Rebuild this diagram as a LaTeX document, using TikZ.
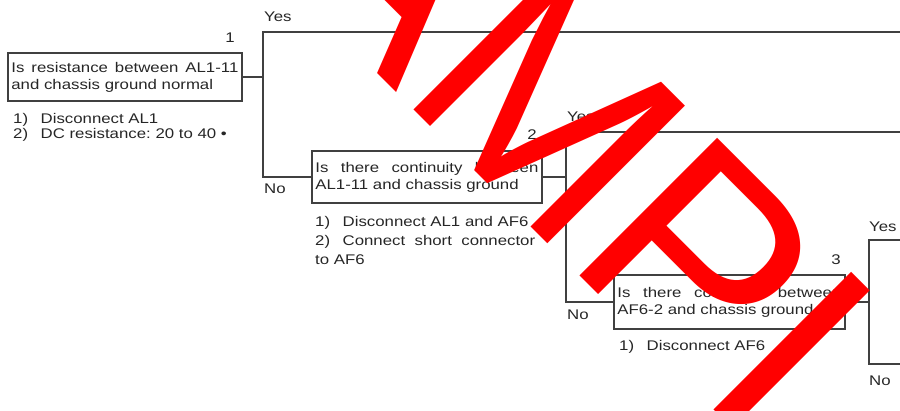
\documentclass[tikz,border=0pt]{standalone}
\usepackage{fontspec}
\setmainfont{Liberation Sans}[FakeStretch=1.2]
\newfontfamily\markfont{Liberation Sans}
\usetikzlibrary{positioning}
\frenchspacing
\newcommand{\noteitem}[1]{\par\hangindent=27.5pt\noindent\makebox[27.5pt][l]{#1}}

\begin{document}
\begin{tikzpicture}[x=1pt,y=-1pt,
    qbox/.style={draw=black!75,line width=1.8pt,text=black!85,anchor=north west,inner xsep=3.5pt,align=justify,font=\fontsize{14}{17}\selectfont},
    note/.style={anchor=north west,inner sep=0pt,text=black!85,align=justify},
    num/.style={inner sep=0pt,text=black!85,font=\fontsize{14}{17}\selectfont},
    lbl/.style={inner sep=0pt,text=black!85,font=\fontsize{14}{17}\selectfont},
    wire/.style={draw=black!75,line width=1.8pt},
    wmark/.style={text=red,inner sep=0pt,font=\markfont\fontsize{283}{283}\selectfont,anchor=base west,rotate=-45}]
    \useasboundingbox (0,0) rectangle (900,411);
    % question boxes
    \node[qbox,text width=227pt,minimum height=48pt] (q1) at (7,52) {Is resistance between AL1-11\linebreak and chassis ground normal};
    \node[qbox,text width=223pt,minimum height=52pt] (q2) at (311,150) {Is there continuity between\linebreak AL1-11 and chassis ground};
    \node[qbox,text width=224pt,minimum height=54pt] (q3) at (613,274) {Is there continuity between\linebreak AF6-2 and chassis ground};
    \node[num,above left=9pt and 8pt of q1.north east] (n1) {1};
    \node[num,above left=10pt and 6pt of q2.north east] (n2) {2};
    \node[num,above left=9pt and 5pt of q3.north east] (n3) {3};
    % checks under the boxes
    \node[note,text width=225pt,font=\fontsize{14}{15.5}\selectfont,below right=6pt and 6pt of q1.south west] (c1)
        {\noteitem{1)}Disconnect AL1\noteitem{2)}DC resistance: 20 to 40 •};
    \node[note,text width=220pt,font=\fontsize{14}{19}\selectfont,below right=4pt and 4pt of q2.south west] (c2)
        {\noteitem{1)}Disconnect AL1 and AF6\noteitem{2)}Connect short connector\linebreak to AF6};
    \node[note,text width=220pt,font=\fontsize{14}{17}\selectfont,below right=4pt and 6pt of q3.south west] (c3)
        {\noteitem{1)}Disconnect AF6};
    % branches
    \coordinate (y1) at (263,32);
    \coordinate (e1) at (900,32);
    \coordinate (b1) at (q2.west -| y1);
    \coordinate (y2) at (566,132);
    \coordinate (e2) at (900,132);
    \coordinate (b2) at (q3.west -| y2);
    \coordinate (y3) at (869,240);
    \coordinate (e3) at (900,240);
    \coordinate (b3) at (869,364);
    \coordinate (f3) at (900,364);
    \draw[wire] (q1.east) -- (q1.east -| y1);
    \draw[wire] (e1) -- (y1) -- (b1) -- (q2.west);
    \draw[wire] (q2.east) -- (q2.east -| y2);
    \draw[wire] (e2) -- (y2) -- (b2) -- (q3.west);
    \draw[wire] (q3.east) -- (q3.east -| y3);
    \draw[wire] (e3) -- (y3) -- (b3) -- (f3);
    \node[lbl,above right=10pt and 1pt of y1] (yes1) {Yes};
    \node[lbl,below right=7pt and 1pt of b1] (no1) {No};
    \node[lbl,above right=10pt and 1pt of y2] (yes2) {Yes};
    \node[lbl,below right=8pt and 1pt of b2] (no2) {No};
    \node[lbl,above right=8pt and 0pt of y3] (yes3) {Yes};
    \node[lbl,below right=12pt and 0pt of b3] (no3) {No};
    % watermark
    \begin{scope}
    \clip (0,0) rectangle (900,411);
    \node[wmark] (wm) at (130,-174) {SAMPLE};
    \end{scope}
\end{tikzpicture}
\end{document}
